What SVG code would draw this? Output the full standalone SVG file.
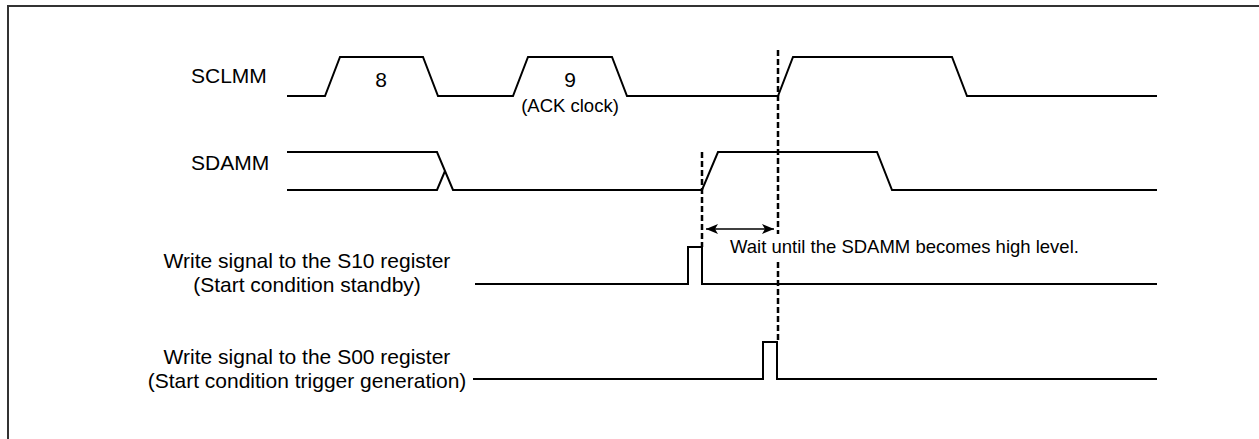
<svg xmlns="http://www.w3.org/2000/svg" width="1259" height="439" viewBox="0 0 1259 439">
<style>
.bg{fill:#fff}
.frame{fill:none;stroke:#333;stroke-width:2}
.wave{fill:none;stroke:#000;stroke-width:2;stroke-linejoin:miter}
.dash{fill:none;stroke:#000;stroke-width:2.5;stroke-dasharray:6,3}
.arr{fill:none;stroke:#000;stroke-width:1.5}
text{font-family:"Liberation Sans",Arial,sans-serif;fill:#000}
.lbl{font-size:21px}
.sm{font-size:18.5px}
.mid{text-anchor:middle}
</style>
<defs>
<marker id="ah" viewBox="0 0 12 10" refX="12" refY="5" markerWidth="12" markerHeight="10" markerUnits="userSpaceOnUse" orient="auto-start-reverse">
<path d="M0,0 L12,5 L0,10 L3,5 Z" fill="#000"/>
</marker>
</defs>
<rect class="bg" x="0" y="0" width="1259" height="439"/>
<path class="frame" d="M8,439 V6 H1259"/>

<g id="sclmm">
<text class="lbl" x="191" y="83">SCLMM</text>
<path class="wave" d="M287,96 H325 L340,57 H423 L438,96 H513 L528,57 H612 L627,96 H778 L793,57 H952 L967,96 H1157"/>
<text class="lbl mid" x="381" y="87">8</text>
<text class="lbl mid" x="570" y="87">9</text>
<text class="sm mid" x="570" y="112">(ACK clock)</text>
</g>

<g id="sdamm">
<text class="lbl" x="191" y="170">SDAMM</text>
<path class="wave" d="M287,152 H437 L453,190 H702 L718,152 H877 L892,190 H1157"/>
<path class="wave" d="M287,190 H437 L445,171"/>
</g>

<g id="s10">
<text class="lbl mid" x="307" y="268">Write signal to the S10 register</text>
<text class="lbl mid" x="307" y="292">(Start condition standby)</text>
<path class="wave" d="M475,284 H688 V247 H702 V284 H1157"/>
</g>

<g id="s00">
<text class="lbl mid" x="307" y="364">Write signal to the S00 register</text>
<text class="lbl mid" x="307" y="388">(Start condition trigger generation)</text>
<path class="wave" d="M473,379 H763 V342 H777 V379 H1157"/>
</g>

<g id="wait-note">
<text class="sm" x="730" y="253">Wait until the SDAMM becomes high level.</text>
</g>

<g id="connectors">
<path class="dash" d="M702,152 V247"/>
<path class="dash" d="M778,50 V234"/>
<path class="dash" d="M778,262 V342"/>
<path class="arr" d="M706,229 H774" marker-start="url(#ah)" marker-end="url(#ah)"/>
</g>
</svg>
